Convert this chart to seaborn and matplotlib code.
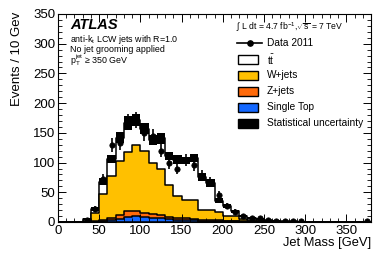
import numpy as np
import pandas as pd
import matplotlib
matplotlib.use("Agg")
import matplotlib.pyplot as plt
from matplotlib.ticker import MultipleLocator
from matplotlib.patches import Rectangle
from matplotlib.lines import Line2D
import seaborn as sns

plt.rcParams["font.family"] = ["Liberation Sans", "DejaVu Sans"]
plt.rcParams["mathtext.fontset"] = "custom"
plt.rcParams["mathtext.rm"] = "Liberation Sans"
plt.rcParams["mathtext.it"] = "Liberation Sans:italic"
plt.rcParams["mathtext.bf"] = "Liberation Sans:bold"

# ---- data (10 GeV bins from 0 to 380 GeV) ----
bin_edges = list(range(0, 390, 10))
single_top = [0, 0, 0, 0.3, 0.8, 2, 3, 5.5, 9, 10, 8, 6.5, 6, 4.5, 4, 3.5, 3.5, 2.5, 2, 1.5,
              1.5, 1, 0.8, 0.6, 0.5, 0.3, 0.2, 0.1, 0.1, 0.1, 0.05, 0.05, 0, 0, 0, 0, 0, 0]
z_jets = [0, 0, 0, 0.5, 1.2, 1.5, 3, 6.5, 9, 8, 7, 6.5, 6, 3.5, 2.5, 2.5, 2, 1.5, 1.5, 1.5,
          1, 1, 0.7, 0.6, 0.5, 0.3, 0.2, 0.2, 0.1, 0.1, 0.05, 0.05, 0, 0, 0, 0, 0, 0]
w_jets = [0, 0, 0, 1.2, 13, 43.5, 71, 91, 99, 112, 104, 87, 77, 54, 36.5, 31, 31.5, 17, 17.5, 13,
          7.5, 8, 3, 2.8, 2, 0.9, 0.6, 0.5, 0.3, 0.2, 0.2, 0.1, 0.1, 0.1, 0.1, 0.1, 0.1, 0.1]
ttbar = [0, 0, 0, 3, 7, 21, 29, 39, 50, 42, 38, 38, 52, 49, 62, 67, 71, 55, 45, 20,
         17, 8, 5.5, 3, 2, 1.5, 1, 0.7, 0.5, 0.4, 0.2, 0.2, 0.2, 0.2, 0.1, 0.1, 0.1, 0.1]
mc_stat_err = [0, 0, 0, 1.5, 3.5, 6, 7, 9, 12, 10, 9, 8, 9, 7, 7, 6, 7, 7, 7, 4,
               4, 3, 2, 1.5, 1.2, 1, 0.8, 0.6, 0.5, 0.4, 0.3, 0.3, 0.3, 0.2, 0.2, 0.2, 0.2, 0.2]
data_2011 = [0, 0, 0, 4, 22, 72, 130, 133, 168, 172, 149, 145, 120, 99, 90, 104, 96, 78, 68, 46,
             27, 17, 10, 7, 6, 3, 2, 2, 1, 1, 0, 0, 0, 0, 0, 0, 0, 1]

c_w = "#FFC000"
c_z = "#FF6A0A"
c_st = "#1468FF"

edges = np.asarray(bin_edges, dtype=float)
centers = edges[:-1] + 5
st = np.asarray(single_top)
zc = st + np.asarray(z_jets)
wc = zc + np.asarray(w_jets)
tot = wc + np.asarray(ttbar)
err = np.asarray(mc_stat_err)
dat = np.asarray(data_2011, dtype=float)

fig = plt.figure(figsize=(3.9, 2.65), dpi=100)
ax = fig.add_axes([58 / 390, 1 - 222 / 265, 313 / 390, 208 / 265])

layers = [(tot, "white"), (wc, c_w), (zc, c_z), (st, c_st)]
for vals, col in layers:
    df = pd.DataFrame({"mass": centers, "w": vals})
    sns.histplot(data=df, x="mass", weights="w", bins=bin_edges, element="step", fill=True,
                 color=col, alpha=1, edgecolor="black", linewidth=1.1, ax=ax)

m = tot > 0
ax.bar(centers[m], 2 * err[m], bottom=tot[m] - err[m], width=10, color="black",
       linewidth=0, zorder=4)

md = dat > 0
ax.errorbar(centers[md], dat[md], yerr=np.sqrt(dat[md]), fmt="none", ecolor="black",
            elinewidth=1.2, capsize=0, zorder=5)
sns.scatterplot(x=centers[md], y=dat[md], color="black", s=15, edgecolor="black",
                linewidth=0.5, ax=ax, zorder=6)

ax.set_xlim(0, 380)
ax.set_ylim(0, 350)
ax.xaxis.set_major_locator(MultipleLocator(50))
ax.xaxis.set_minor_locator(MultipleLocator(10))
ax.yaxis.set_major_locator(MultipleLocator(50))
ax.yaxis.set_minor_locator(MultipleLocator(10))
ax.tick_params(which="both", direction="in", top=True, right=True, labelsize=9.5, pad=2)
ax.tick_params(which="major", length=6, width=0.7)
ax.tick_params(which="minor", length=3, width=0.6)
for s in ax.spines.values():
    s.set_linewidth(0.8)

ax.set_ylabel("Events / 10 Gev", fontsize=9.5, loc="top")
ax.yaxis.set_label_coords((23 - 58) / 313, 1.01)
ax.set_xlabel("Jet Mass [GeV]", fontsize=9.3, loc="right")
ax.xaxis.set_label_coords(1.0, -(237 - 222) / 208)

def fx(px):
    return (px - 58) / 313

def fy(py):
    return (222 - py) / 208

T = ax.transAxes
ax.text(fx(70), fy(25), "ATLAS", transform=T, fontsize=10.5, weight="bold", style="italic",
        va="center", ha="left")
ax.text(fx(70), fy(39), "anti-k$_\\mathrm{t}$ LCW jets with R=1.0", transform=T, fontsize=6.4,
        va="center", ha="left")
ax.text(fx(70), fy(49), "No jet grooming applied", transform=T, fontsize=6.4,
        va="center", ha="left")
ax.text(fx(70), fy(60), "p$_\\mathrm{T}^\\mathrm{jet}$ \u2265 350 GeV", transform=T, fontsize=6.4,
        va="center", ha="left")
ax.text(fx(236), fy(27), "$\\int$ L dt = 4.7 fb$^{-1}$,$\\sqrt{\\mathrm{s}}$ = 7 TeV", transform=T,
        fontsize=6.2, va="center", ha="left")

# legend
bx0, bx1 = fx(238), fx(258)
bh = 9 / 208
tx = fx(267)
rows = [("Data 2011", 43, None), ("t$\\mathrm{\\bar{t}}$", 59.5, "white"), ("W+jets", 75.5, c_w),
        ("Z+jets", 91.5, c_z), ("Single Top", 107, c_st), ("Statistical uncertainty", 123, "black")]
for lab, py, col in rows:
    if col is None:
        ax.add_line(Line2D([fx(237), fx(262)], [fy(py), fy(py)], color="black", lw=1.2,
                           transform=T))
        ax.add_line(Line2D([fx(249.5)], [fy(py)], marker="o", ms=3.8, color="black",
                           transform=T))
    else:
        ax.add_patch(Rectangle((bx0, fy(py) - bh / 2), bx1 - bx0, bh, facecolor=col,
                               edgecolor="black", lw=1.0, transform=T, zorder=7))
    ax.text(tx, fy(py), lab, transform=T, fontsize=7.3, va="center", ha="left")

fig.savefig("out.png", dpi=100)
